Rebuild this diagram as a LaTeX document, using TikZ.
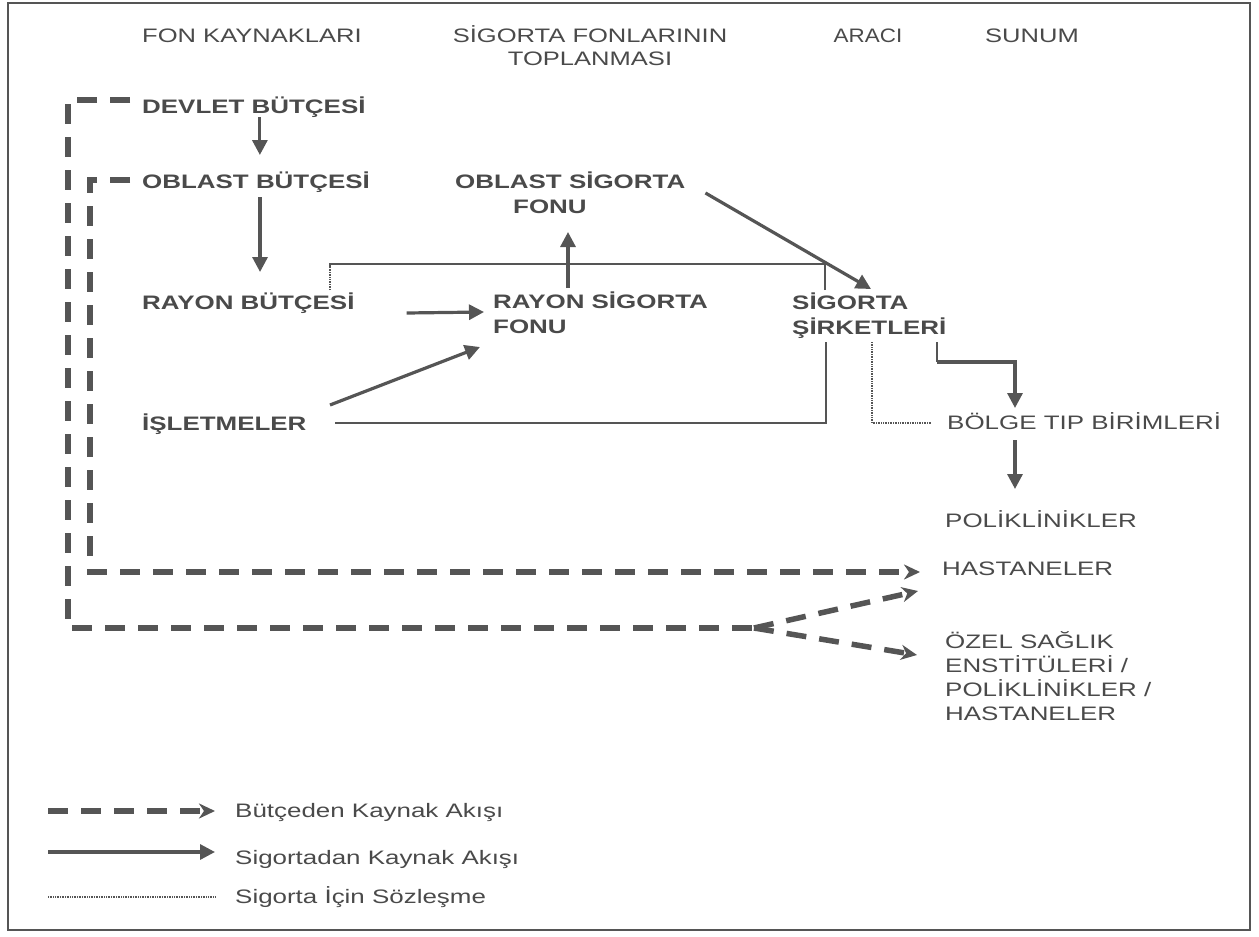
\documentclass[tikz,border=0pt]{standalone}
\usepackage{fontspec}
\setmainfont{Liberation Sans}
\usepackage{graphicx}
\usetikzlibrary{arrows.meta}
\definecolor{ink}{HTML}{555555}
\definecolor{txt}{HTML}{4A4A4A}
\newcommand{\sx}[1]{\scalebox{1.33}[1]{#1}}
\newcommand{\hx}[1]{\scalebox{1.31}[1]{#1}}
\begin{document}
\begin{tikzpicture}[x=1pt,y=-1pt,
  lbl/.style={inner sep=0pt, text=txt, font=\fontsize{19.5}{25}\selectfont\bfseries, anchor=base west},
  lblr/.style={inner sep=0pt, text=txt, font=\fontsize{19.5}{24}\selectfont, anchor=base west},
  hdr/.style={inner sep=0pt, text=txt, font=\fontsize{19.5}{23}\selectfont, anchor=base},
  sarrow/.style={draw=ink, line width=3.2pt, -{Triangle[length=15pt,width=15pt]}},
  sline/.style={draw=ink, line width=2.6pt},
  darrow/.style={draw=ink, line width=5.5pt, dash pattern=on 20pt off 13pt, -{Stealth[length=16pt,width=15pt,inset=5pt]}},
  dline/.style={draw=ink, line width=5.5pt, dash pattern=on 20pt off 13pt},
  cline/.style={draw=ink, line width=1.4pt},
  dotl/.style={draw=ink, line width=1.6pt, dash pattern=on 1pt off 0.7pt},
]
\useasboundingbox (0,0) rectangle (1259,937);
\draw[ink, line width=1.5pt] (8,3) rectangle (1250,930);

% headers
\node[hdr] (h1) at (252,42) {\hx{FON KAYNAKLARI}};
\node[hdr] (h2) at (590,42) {\hx{\begin{tabular}[t]{@{}c@{}}SİGORTA FONLARININ\\TOPLANMASI\end{tabular}}};
\node[hdr] (h3) at (868,42) {\scalebox{1.15}[1]{ARACI}};
\node[hdr] (h4) at (1032,42) {\hx{SUNUM}};

% bold labels
\node[lbl] (devlet) at (142,113) {\sx{DEVLET BÜTÇESİ}};
\node[lbl] (oblastb) at (142,188) {\sx{OBLAST BÜTÇESİ}};
\node[lbl] (rayonb) at (142,309) {\sx{RAYON BÜTÇESİ}};
\node[lbl] (isletme) at (142,430) {\sx{İŞLETMELER}};
\node[lbl] (oblastsf) at (455,188) {\sx{\begin{tabular}[t]{@{}l@{}}OBLAST SİGORTA\\\hspace*{43.6pt}FONU\end{tabular}}};
\node[lbl] (rayonsf) at (493,308) {\sx{\begin{tabular}[t]{@{}l@{}}RAYON SİGORTA\\FONU\end{tabular}}};
\node[lbl] (sirket) at (792,309) {\sx{\begin{tabular}[t]{@{}l@{}}SİGORTA\\ŞİRKETLERİ\end{tabular}}};

% regular labels
\node[lblr] (bolge) at (947,429) {\sx{BÖLGE TIP BİRİMLERİ}};
\node[lblr] (poli) at (945,527) {\sx{POLİKLİNİKLER}};
\node[lblr] (hast) at (942,575) {\sx{HASTANELER}};
\node[lblr] (ozel) at (945,648) {\sx{\begin{tabular}[t]{@{}l@{}}ÖZEL SAĞLIK\\ENSTİTÜLERİ /\\POLİKLİNİKLER /\\HASTANELER\end{tabular}}};

% solid flows
\draw[sarrow, shorten <=4pt] ([xshift=6pt]devlet.base) -- ([xshift=6pt,yshift=33pt]devlet.base |- oblastb.base);
\draw[sarrow] ([xshift=4pt,yshift=-9pt]oblastb.base) -- ([xshift=4pt,yshift=37pt]oblastb.base |- rayonb.base);
\draw[sarrow] ([xshift=52pt,yshift=-4pt]rayonb.base east) -- ([xshift=-9pt,yshift=-4pt]rayonsf.base west);
\draw[sarrow] ([xshift=188pt,yshift=25pt]isletme.base west) -- ([xshift=-13pt,yshift=-39pt]rayonsf.base west);
\draw[sarrow] ([xshift=75pt,yshift=20pt]rayonsf.base west) -- ([xshift=75pt,yshift=-44pt]rayonsf.base west |- oblastsf.base);
\draw[sarrow] ([xshift=20pt,yshift=-5pt]oblastsf.base east) -- ([xshift=79pt,yshift=20pt]sirket.base west);
\draw[sline] ([xshift=145pt,yshift=-33pt]sirket.base west) -- ++(0,20) coordinate (bend);
\draw[sarrow] (bend) -| ([xshift=68pt,yshift=21pt]bolge.base west);
\draw[sarrow] ([xshift=68pt,yshift=-11pt]bolge.base west) -- ([xshift=68pt,yshift=38pt]bolge.base west |- poli.base);

% contract lines
\draw[dotl] ([xshift=188pt,yshift=19pt]rayonb.base west) -- ++(0,-22) coordinate (c1);
\draw[cline] (c1) -- ++(0,-4) -| ([xshift=33pt,yshift=19pt]sirket.base west);
\draw[dotl] ([xshift=33pt,yshift=19pt]sirket.base west) -- ++(0,-4);
\draw[cline] ([xshift=193pt,yshift=7pt]isletme.base west) -| ([xshift=34pt,yshift=-33pt]sirket.base west);
\draw[dotl] ([xshift=80pt,yshift=-33pt]sirket.base west) |- ([xshift=-15pt,yshift=6pt]bolge.base west);

% budget flows
\coordinate (split) at (754,628);
\draw[dline] ([xshift=-12pt,yshift=13pt]devlet.base west) -| (68,628) -- (split);
\draw[darrow] ([xshift=-12pt,yshift=8pt]oblastb.base west) -| (90,572) -- ([xshift=-22pt,yshift=3pt]hast.base west);
\draw[darrow] (split) -- ([xshift=-24pt,yshift=-16pt]hast.base west);
\draw[darrow] (split) -- ([xshift=-28pt,yshift=-7pt]ozel.base west);

% legend
\node[lblr] (leg1) at (235,817) {\sx{Bütçeden Kaynak Akışı}};
\node[lblr] (leg2) at (235,864) {\sx{Sigortadan Kaynak Akışı}};
\node[lblr] (leg3) at (235,903) {\sx{Sigorta İçin Sözleşme}};
\coordinate (l1) at (48,811);
\coordinate (l2) at (48,852);
\coordinate (l3) at (48,897);
\draw[darrow] (l1) -- ([xshift=-20pt]l1 -| leg1.west);
\draw[sarrow] (l2) -- ([xshift=-20pt]l2 -| leg2.west);
\draw[dotl, line width=1.2pt] (l3) -- ([xshift=-20pt]l3 -| leg3.west);
\end{tikzpicture}
\end{document}
